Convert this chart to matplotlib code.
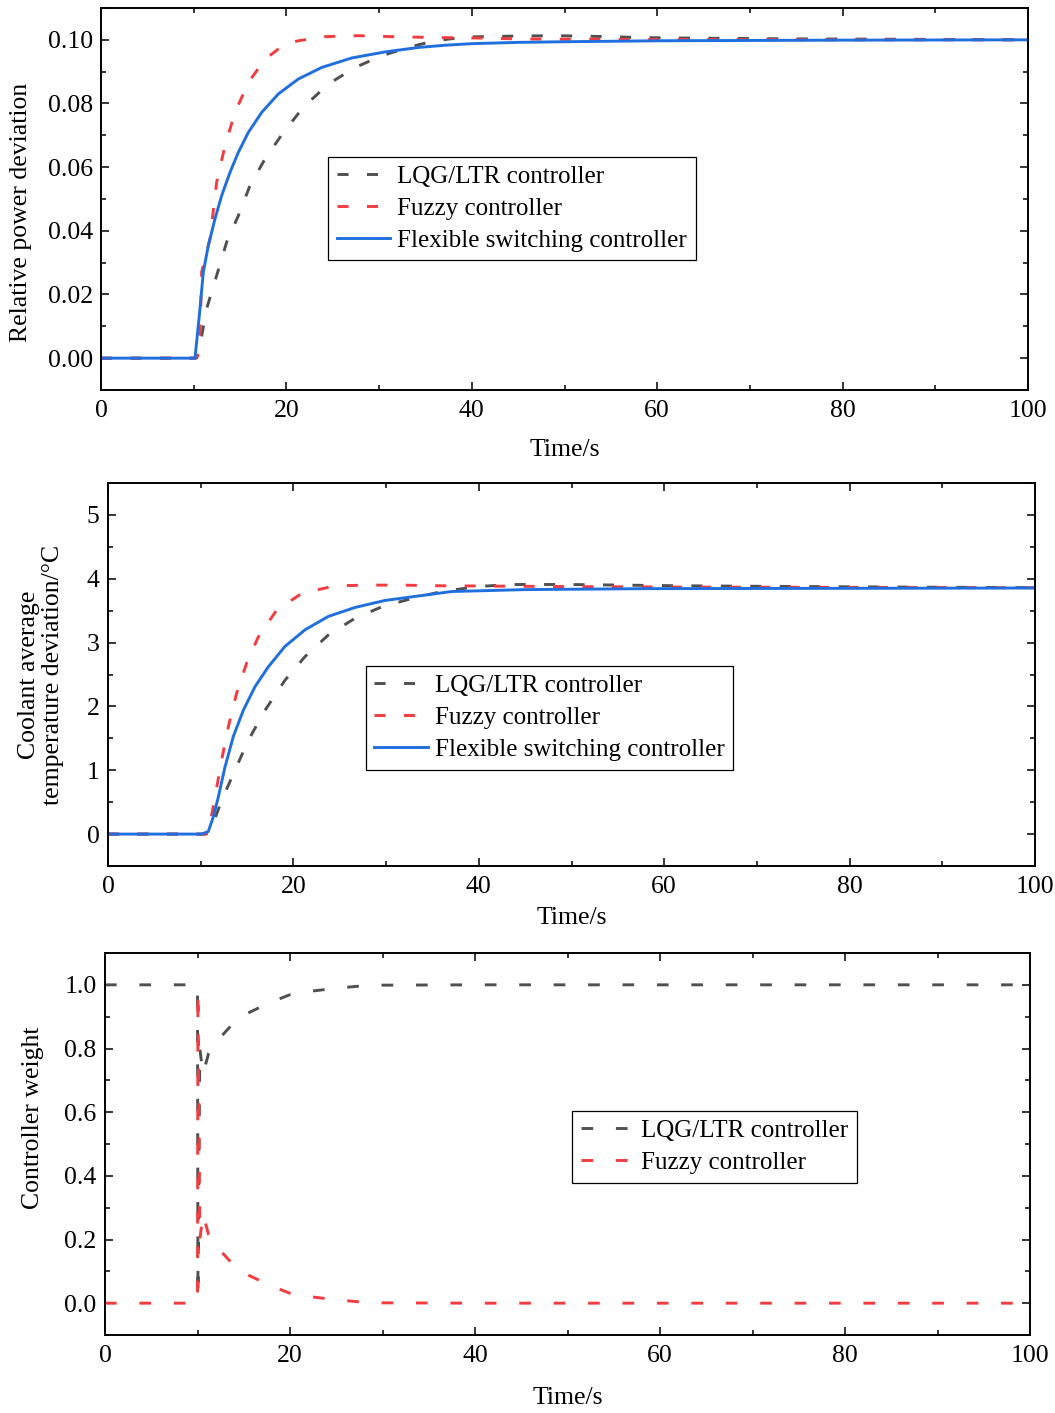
import numpy as np
import matplotlib
matplotlib.use('Agg')
import matplotlib.pyplot as plt
from matplotlib.ticker import MultipleLocator, FormatStrFormatter

plt.rcParams['font.family'] = ['Liberation Serif', 'DejaVu Serif']

# relative power deviation
t_pw_lqg = [0, 10.0, 10.3, 10.68, 11.4, 12.48, 13.56, 14.82, 16.07, 17.69, 19.67, 21.82,
            24.52, 27.4, 30.28, 33.5, 36.0, 39.4, 45, 49, 55, 58, 65, 75, 85, 100]
pw_lqg = [0, 0, 0, 0.0041, 0.0156, 0.0260, 0.0365, 0.0448, 0.0542, 0.0626, 0.0709, 0.0788,
          0.0861, 0.0913, 0.0950, 0.0979, 0.0997, 0.1009, 0.1012, 0.1013, 0.1010, 0.1007,
          0.1005, 0.1003, 0.1002, 0.1000]
t_pw_fuzzy = [0, 10.0, 10.4, 10.68, 10.86, 11.76, 12.48, 13.38, 14.46, 15.89, 17.69, 19.85,
              21.29, 24.16, 27.76, 31.36, 36.4, 40.0, 45.0, 50.0, 60.0, 80.0, 100.0]
pw_fuzzy = [0, 0, 0.0005, 0.0062, 0.0271, 0.0375, 0.0553, 0.0668, 0.0772, 0.0866, 0.0939,
            0.0987, 0.0997, 0.1010, 0.1013, 0.1010, 0.1007, 0.1006, 0.1003, 0.1002,
            0.1001, 0.1000, 0.1000]
t_pw_flex = [0, 10.14, 10.68, 11.04, 11.58, 12.30, 13.02, 13.92, 14.82, 15.89, 17.33, 19.13,
             21.29, 23.80, 27.04, 30.64, 34.23, 37.1, 40.0, 45.0, 50.0, 60.0, 70.0, 80.0,
             100.0]
pw_flex = [0, 0, 0.0156, 0.0271, 0.0354, 0.0438, 0.0511, 0.0584, 0.0647, 0.0709, 0.0772,
           0.0830, 0.0877, 0.0913, 0.0943, 0.0962, 0.0976, 0.0983, 0.0988, 0.0992, 0.0994,
           0.0997, 0.0998, 0.0999, 0.1000]

# coolant average temperature deviation
t_tc_lqg = [0, 10.6, 11.36, 12.26, 13.7, 15.14, 16.94, 19.09, 21.25, 23.77, 26.64, 29.53,
            32.76, 36.0, 40.0, 43.7, 49.7, 55.6, 61.7, 72.1, 85.0, 100.0]
tc_lqg = [0, 0, 0.17, 0.53, 1.0, 1.47, 1.94, 2.41, 2.78, 3.12, 3.38, 3.56, 3.69, 3.80, 3.88,
          3.91, 3.91, 3.90, 3.89, 3.88, 3.87, 3.86]
t_tc_fuzzy = [0, 10.3, 10.82, 11.54, 12.26, 12.98, 13.88, 14.96, 16.22, 18.2, 20.9, 24.49,
              28.08, 31.68, 36.0, 46.6, 60.0, 80.0, 100.0]
tc_fuzzy = [0, 0, 0.01, 0.58, 1.16, 1.68, 2.21, 2.68, 3.09, 3.51, 3.77, 3.89, 3.90, 3.90,
            3.89, 3.88, 3.87, 3.865, 3.86]
t_tc_flex = [0, 10.1, 10.82, 11.36, 11.9, 12.62, 13.52, 14.6, 15.86, 17.29, 19.09, 21.25,
             23.77, 26.64, 29.88, 33.47, 37.08, 45.0, 58.0, 80.0, 100.0]
tc_flex = [0, 0, 0.04, 0.27, 0.58, 1.05, 1.53, 1.94, 2.31, 2.62, 2.94, 3.20, 3.41, 3.55,
           3.66, 3.73, 3.80, 3.83, 3.845, 3.85, 3.855]

# controller weights
t_w = [0, 10.0, 10.05, 10.25, 10.6, 11.2, 12.0, 13.7, 15.0, 16.8, 18.5, 20.0, 22.0, 24.0,
       26.0, 27.9, 30.0, 40.0, 60.0, 80.0, 100.0]
w_lqg = [1, 1, 0.02, 0.80, 0.72, 0.785, 0.82, 0.874, 0.905, 0.93, 0.952, 0.969, 0.979,
         0.986, 0.992, 0.997, 0.999, 1, 1, 1, 1]
w_fuzzy = [0, 0, 0.98, 0.20, 0.28, 0.215, 0.18, 0.126, 0.095, 0.07, 0.048, 0.031, 0.021,
           0.014, 0.008, 0.003, 0.001, 0, 0, 0, 0]

labels = ['LQG/LTR controller', 'Fuzzy controller', 'Flexible switching controller']
c_lqg = '#505050'
c_fuzzy = '#f23c3f'
c_flex = '#1f6fdf'

fs = 18.5      # axis text
fs_leg = 18    # legend text
W, H = 1055, 1413
fig = plt.figure(figsize=(W / 100, H / 100), dpi=100)


def box(x0, y0, x1, y1):
    return [x0 / W, 1 - y1 / H, (x1 - x0) / W, (y1 - y0) / H]


def style_axis(ax, ymaj, ymin, fmt):
    ax.set_xlim(0, 100)
    ax.xaxis.set_major_locator(MultipleLocator(20))
    ax.xaxis.set_minor_locator(MultipleLocator(10))
    ax.yaxis.set_major_locator(MultipleLocator(ymaj))
    ax.yaxis.set_minor_locator(MultipleLocator(ymin))
    ax.yaxis.set_major_formatter(FormatStrFormatter(fmt))
    ax.tick_params(which='both', direction='in', top=True, right=True, width=1.1,
                   labelsize=fs)
    ax.tick_params(which='major', length=6)
    ax.tick_params(which='minor', length=3.5)
    ax.tick_params(axis='x', pad=7)
    ax.tick_params(axis='y', pad=6)
    for s in ax.spines.values():
        s.set_linewidth(1.4)


def add_legend(ax, x, y):
    leg = ax.legend(loc='upper left', bbox_to_anchor=(x, y), borderaxespad=0,
                    fontsize=fs_leg, frameon=True, fancybox=False, framealpha=1,
                    edgecolor='black', handlelength=2.15, handletextpad=0.28,
                    labelspacing=0.38, borderpad=0.34)
    leg.get_frame().set_linewidth(0.9)


lw = 2.1
dash = (0, (3.8, 6.3))
dash_w = (0, (4.0, 7.8))

# power
ax1 = fig.add_axes(box(101, 8, 1028, 390))
ax1.plot(t_pw_lqg, pw_lqg, color=c_lqg, lw=lw, ls=dash, label=labels[0])
ax1.plot(t_pw_fuzzy, pw_fuzzy, color=c_fuzzy, lw=lw, ls=dash, label=labels[1])
ax1.plot(t_pw_flex, pw_flex, color=c_flex, lw=lw, label=labels[2])
ax1.set_ylim(-0.01, 0.11)
style_axis(ax1, 0.02, 0.01, '%.2f')
ax1.set_xlabel('Time/s', fontsize=fs, va='center')
ax1.xaxis.set_label_coords(0.5, -0.157)
ax1.set_ylabel('Relative power deviation', fontsize=fs, va='center')
ax1.yaxis.set_label_coords(-0.0863, 0.466)
add_legend(ax1, 0.245, 0.610)

# coolant temperature
ax2 = fig.add_axes(box(108, 483, 1035, 866))
ax2.plot(t_tc_lqg, tc_lqg, color=c_lqg, lw=lw, ls=dash, label=labels[0])
ax2.plot(t_tc_fuzzy, tc_fuzzy, color=c_fuzzy, lw=lw, ls=dash, label=labels[1])
ax2.plot(t_tc_flex, tc_flex, color=c_flex, lw=lw, label=labels[2])
ax2.set_ylim(-0.5, 5.5)
style_axis(ax2, 1, 0.5, '%d')
ax2.set_xlabel('Time/s', fontsize=fs, va='center')
ax2.xaxis.set_label_coords(0.5, -0.136)
ax2.set_ylabel('Coolant average\ntemperature deviation/°C', fontsize=fs, va='center',
               linespacing=1.1)
ax2.yaxis.set_label_coords(-0.0723, 0.5)
add_legend(ax2, 0.278, 0.522)

# weights
ax3 = fig.add_axes(box(105, 953, 1030, 1335))
ax3.plot(t_w, w_lqg, color=c_lqg, lw=lw, ls=dash_w, label=labels[0])
ax3.plot(t_w, w_fuzzy, color=c_fuzzy, lw=lw, ls=dash_w, label=labels[1])
ax3.set_ylim(-0.1, 1.1)
style_axis(ax3, 0.2, 0.1, '%.1f')
ax3.set_xlabel('Time/s', fontsize=fs, va='center')
ax3.xaxis.set_label_coords(0.5, -0.165)
ax3.set_ylabel('Controller weight', fontsize=fs, va='center')
ax3.yaxis.set_label_coords(-0.0778, 0.569)
add_legend(ax3, 0.505, 0.586)

fig.savefig('out.png', dpi=100)
